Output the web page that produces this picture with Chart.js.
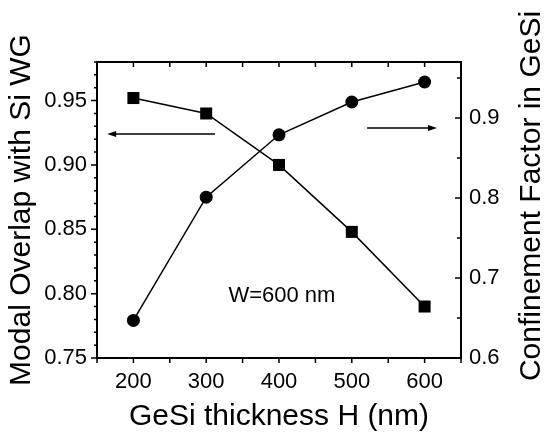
<!DOCTYPE html>
<html>
<head>
<meta charset="utf-8">
<script src="https://cdn.jsdelivr.net/npm/chart.js@4/dist/chart.umd.min.js"></script>
<style>
    body { margin: 0; background: #fff; }
    canvas { display: block; }
</style>
</head>
<body>
<canvas id="chart" width="544" height="437"></canvas>
<script>
// GeSi thickness H (nm)
const thickness = [200, 300, 400, 500, 600]
// modal overlap with Si WG (left axis, squares)
const overlap = [0.952, 0.940, 0.900, 0.848, 0.790]
// confinement factor in GeSi (right axis, circles)
const confinement = [0.647, 0.801, 0.879, 0.920, 0.945]

const xTicks = [200, 300, 400, 500, 600]
const leftTicks = [0.75, 0.80, 0.85, 0.90, 0.95]
const rightTicks = [0.6, 0.7, 0.8, 0.9]

const FONT = "'Liberation Sans', Arial, sans-serif"

const toPoints = (ys) => thickness.map((x, i) => ({ x, y: ys[i] }))

const drawArrow = (ctx, x1, y, x2) => {
    const dir = Math.sign(x2 - x1)
    ctx.beginPath()
    ctx.moveTo(x1, y)
    ctx.lineTo(x2 - dir * 6, y)
    ctx.stroke()
    ctx.beginPath()
    ctx.moveTo(x2, y)
    ctx.lineTo(x2 - dir * 9, y - 3)
    ctx.lineTo(x2 - dir * 9, y + 3)
    ctx.closePath()
    ctx.fill()
}

const framePlugin = {
    id: "frame",
    afterDraw(chart) {
        const { ctx, chartArea: a, scales } = chart
        const x = scales.x
        const yl = scales.y
        const yr = scales.y2
        ctx.save()
        ctx.strokeStyle = "#000"
        ctx.fillStyle = "#000"

        // ticks
        ctx.lineWidth = 1.5
        ctx.beginPath()
        for (let v = 150; v <= 650; v += 50) {
            const px = x.getPixelForValue(v)
            ctx.moveTo(px, a.bottom)
            ctx.lineTo(px, a.bottom + 5)
            ctx.moveTo(px, a.top)
            ctx.lineTo(px, a.top + 5)
        }
        for (let i = 0; i <= 23; i++) {
            const v = 0.75 + i * 0.01
            const py = yl.getPixelForValue(v)
            const len = i % 5 === 0 ? 6 : 3
            ctx.moveTo(a.left, py)
            ctx.lineTo(a.left - len, py)
        }
        for (let i = 0; i <= 7; i++) {
            const v = 0.6 + i * 0.05
            const py = yr.getPixelForValue(v)
            const len = i % 2 === 0 ? 6 : 4
            ctx.moveTo(a.right, py)
            ctx.lineTo(a.right - len, py)
        }
        ctx.stroke()

        // box
        ctx.lineWidth = 2
        ctx.strokeRect(a.left, a.top, a.right - a.left, a.bottom - a.top)

        // arrows pointing to each axis
        ctx.lineWidth = 1.5
        drawArrow(ctx, x.getPixelForValue(312), yl.getPixelForValue(0.924), x.getPixelForValue(164))
        drawArrow(ctx, x.getPixelForValue(521), yr.getPixelForValue(0.8875), x.getPixelForValue(617))

        // annotation
        ctx.font = "22px " + FONT
        ctx.textAlign = "center"
        ctx.textBaseline = "middle"
        ctx.fillText("W=600 nm", x.getPixelForValue(404), yl.getPixelForValue(0.798))

        // right axis title, reading bottom to top
        ctx.font = "30px " + FONT
        ctx.translate(532, 196)
        ctx.rotate(-Math.PI / 2)
        ctx.fillText("Confinement Factor in GeSi", 0, 0)
        ctx.restore()
    },
}

new Chart(document.getElementById("chart"), {
    type: "line",
    data: {
        datasets: [
            {
                label: "Modal Overlap",
                data: toPoints(overlap),
                yAxisID: "y",
                borderColor: "#000",
                backgroundColor: "#000",
                borderWidth: 1.5,
                pointStyle: "rect",
                pointRadius: 8.5,
                pointBorderWidth: 0,
            },
            {
                label: "Confinement Factor",
                data: toPoints(confinement),
                yAxisID: "y2",
                borderColor: "#000",
                backgroundColor: "#000",
                borderWidth: 1.5,
                pointStyle: "circle",
                pointRadius: 6.5,
                pointBorderWidth: 0,
            },
        ],
    },
    options: {
        responsive: false,
        animation: false,
        devicePixelRatio: 1,
        layout: { padding: { top: 62, left: 0, right: 0, bottom: 0 } },
        plugins: {
            legend: { display: false },
            tooltip: { enabled: false },
        },
        scales: {
            x: {
                type: "linear",
                min: 150,
                max: 650,
                afterBuildTicks: (s) => { s.ticks = xTicks.map((value) => ({ value })) },
                afterFit: (s) => { s.height = 79 },
                grid: { display: false, drawTicks: false },
                border: { display: false },
                ticks: {
                    padding: 11,
                    color: "#000",
                    font: { family: FONT, size: 22 },
                    callback: (v) => String(v),
                },
                title: {
                    display: true,
                    text: "GeSi thickness H (nm)",
                    color: "#000",
                    font: { family: FONT, size: 30, lineHeight: 1.2 },
                    padding: { top: 0, bottom: 2 },
                },
            },
            y: {
                type: "linear",
                position: "left",
                min: 0.75,
                max: 0.98,
                afterBuildTicks: (s) => { s.ticks = leftTicks.map((value) => ({ value })) },
                afterFit: (s) => { s.width = 97 },
                grid: { display: false, drawTicks: false },
                border: { display: false },
                ticks: {
                    padding: 10,
                    color: "#000",
                    font: { family: FONT, size: 22 },
                    callback: (v) => v.toFixed(2),
                },
                title: {
                    display: true,
                    text: "Modal Overlap with Si WG",
                    color: "#000",
                    font: { family: FONT, size: 30, lineHeight: 1.2 },
                    padding: { top: 4, bottom: 0 },
                },
            },
            y2: {
                type: "linear",
                position: "right",
                min: 0.6,
                max: 0.97,
                afterBuildTicks: (s) => { s.ticks = rightTicks.map((value) => ({ value })) },
                afterFit: (s) => { s.width = 83 },
                grid: { display: false, drawTicks: false },
                border: { display: false },
                ticks: {
                    padding: 8,
                    color: "#000",
                    font: { family: FONT, size: 22 },
                    callback: (v) => v.toFixed(1),
                },
            },
        },
    },
    plugins: [framePlugin],
})
</script>
</body>
</html>
